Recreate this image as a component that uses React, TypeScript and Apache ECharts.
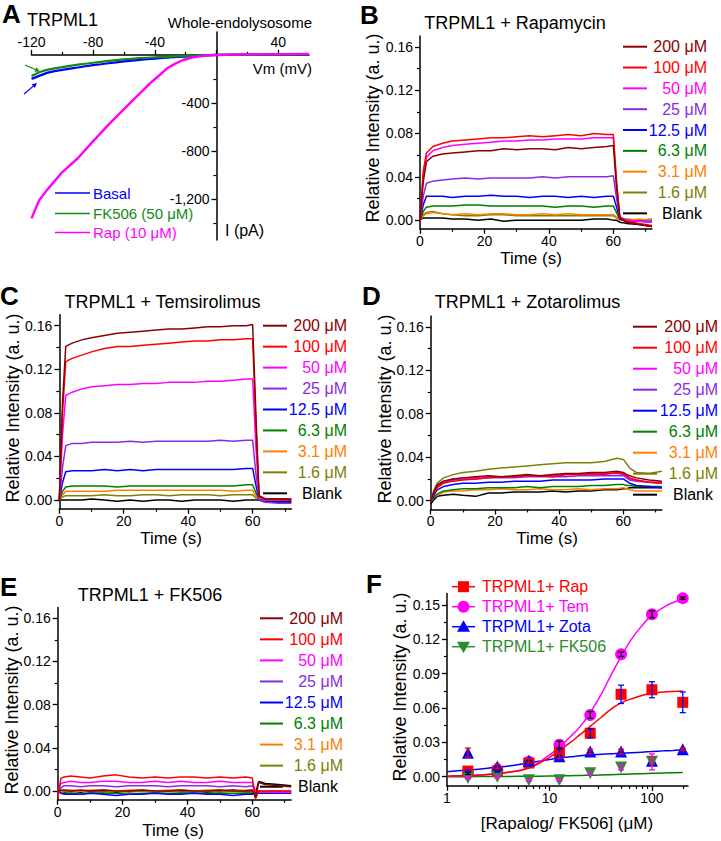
import React, { useEffect, useRef } from 'react';
import * as echarts from 'echarts';

const FONT = '"Liberation Sans", Arial, Helvetica, sans-serif';

// ---------- Panel A: I-V curves ----------
const voltageRap = [-120, -115, -110, -100, -90, -80, -70, -60, -54, -48, -43, -38, -32, -27, -22, -16, -11, -5, 0, 10, 20, 40, 60];
const currentRap = [-1360, -1210, -1125, -975, -860, -718, -580, -452, -375, -300, -236, -180, -112, -75, -45, -22, -12, -5, -2, 2, 4, 6, 8];
const voltageCtrl = [-120, -115, -110, -105, -100, -95, -90, -85, -80, -75, -70, -65, -60, -55, -50, -45, -40, -35, -30, -25, -20, -15, -10, -5, 0, 20, 40, 60];
const currentBasal = [-200, -175, -150, -135, -125, -115, -105, -95, -85, -78, -70, -62, -55, -48, -42, -36, -31, -26, -22, -18, -14, -10, -6, -3, 0, 1, 2, 3];
const currentFK506 = [-175, -145, -125, -112, -102, -92, -82, -74, -66, -58, -50, -44, -38, -33, -28, -24, -20, -17, -14, -11, -9, -6, -4, -2, 0, 1, 2, 3];

// ---------- Panels B-E: time courses ----------
const timeS = [0, 1, 2, 4, 7, 10, 14, 18, 22, 26, 30, 34, 38, 42, 46, 50, 54, 58, 60, 61, 62, 64, 68, 72];
const doseLabels = ['200 μM', '100 μM', '50 μM', '25 μM', '12.5 μM', '6.3 μM', '3.1 μM', '1.6 μM', 'Blank'];
const doseColors = ['#8b0000', '#ff0000', '#ff00ff', '#8a2be2', '#0000ff', '#008000', '#ff8000', '#808000', '#000000'];

const rapamycin200 = [0, 0.035, 0.054, 0.059, 0.061, 0.062, 0.063, 0.064, 0.064, 0.066, 0.065, 0.066, 0.066, 0.065, 0.067, 0.066, 0.067, 0.068, 0.069, 0.030, 0.002, -0.002, -0.004, -0.006];
const rapamycin100 = [0, 0.045, 0.062, 0.068, 0.071, 0.073, 0.074, 0.075, 0.076, 0.076, 0.077, 0.078, 0.077, 0.078, 0.079, 0.078, 0.080, 0.079, 0.079, 0.035, 0.003, -0.001, -0.003, -0.005];
const rapamycin50 = [0, 0.040, 0.058, 0.064, 0.067, 0.069, 0.070, 0.071, 0.072, 0.073, 0.073, 0.074, 0.074, 0.075, 0.075, 0.075, 0.076, 0.076, 0.076, 0.035, 0.003, 0.0, -0.001, -0.002];
const rapamycin25 = [0, 0.022, 0.034, 0.036, 0.037, 0.038, 0.039, 0.038, 0.039, 0.039, 0.039, 0.039, 0.040, 0.039, 0.040, 0.040, 0.040, 0.040, 0.041, 0.020, 0.002, 0.0, -0.001, -0.001];
const rapamycin12 = [0, 0.014, 0.022, 0.022, 0.022, 0.021, 0.022, 0.022, 0.023, 0.022, 0.022, 0.021, 0.022, 0.022, 0.021, 0.022, 0.021, 0.022, 0.022, 0.012, 0.001, -0.001, -0.001, -0.002];
const rapamycin6 = [0, 0.008, 0.012, 0.013, 0.013, 0.013, 0.014, 0.014, 0.013, 0.013, 0.013, 0.013, 0.013, 0.012, 0.013, 0.013, 0.012, 0.013, 0.013, 0.007, 0.001, 0.0, -0.001, -0.001];
const rapamycin3 = [0, 0.004, 0.006, 0.007, 0.006, 0.005, 0.006, 0.005, 0.006, 0.006, 0.005, 0.005, 0.006, 0.005, 0.006, 0.005, 0.005, 0.005, 0.005, 0.003, 0.0, 0.0, 0.001, 0.0];
const rapamycin1 = [0, 0.005, 0.007, 0.008, 0.006, 0.005, 0.004, 0.004, 0.005, 0.005, 0.004, 0.004, 0.004, 0.004, 0.004, 0.004, 0.004, 0.004, 0.004, 0.002, 0.001, 0.001, 0.0, 0.001];
const rapamycinBlank = [0, 0.002, 0.002, 0.002, 0.002, 0.001, 0.001, 0.0, 0.001, -0.001, 0.0, 0.0, 0.0, 0.0, 0.0, 0.0, 0.001, 0.001, 0.0, 0.0, -0.002, -0.003, -0.004, -0.006];

const temsirolimus200 = [0, 0.090, 0.141, 0.144, 0.147, 0.149, 0.151, 0.153, 0.154, 0.155, 0.156, 0.157, 0.157, 0.158, 0.159, 0.159, 0.160, 0.160, 0.161, 0.080, 0.004, 0.001, 0.001, 0.001];
const temsirolimus100 = [0, 0.080, 0.127, 0.130, 0.133, 0.136, 0.139, 0.141, 0.141, 0.142, 0.143, 0.144, 0.145, 0.146, 0.146, 0.147, 0.147, 0.148, 0.148, 0.070, 0.003, 0.001, 0.001, 0.0];
const temsirolimus50 = [0, 0.060, 0.096, 0.099, 0.102, 0.104, 0.105, 0.106, 0.106, 0.107, 0.107, 0.108, 0.108, 0.108, 0.109, 0.109, 0.110, 0.111, 0.111, 0.050, 0.002, 0.0, 0.0, 0.0];
const temsirolimus25 = [0, 0.030, 0.050, 0.052, 0.052, 0.053, 0.053, 0.053, 0.054, 0.053, 0.054, 0.054, 0.054, 0.054, 0.054, 0.055, 0.054, 0.055, 0.055, 0.025, 0.0, -0.002, -0.003, -0.003];
const temsirolimus12 = [0, 0.016, 0.026, 0.027, 0.027, 0.027, 0.028, 0.027, 0.028, 0.027, 0.028, 0.028, 0.028, 0.028, 0.028, 0.028, 0.028, 0.029, 0.029, 0.014, 0.0, -0.002, -0.002, -0.002];
const temsirolimus6 = [0, 0.008, 0.012, 0.013, 0.013, 0.013, 0.013, 0.012, 0.013, 0.013, 0.013, 0.013, 0.013, 0.013, 0.013, 0.013, 0.013, 0.014, 0.014, 0.007, 0.001, 0.0, 0.0, 0.0];
const temsirolimus3 = [0, 0.005, 0.008, 0.008, 0.008, 0.008, 0.008, 0.009, 0.009, 0.009, 0.009, 0.009, 0.009, 0.009, 0.009, 0.009, 0.008, 0.009, 0.009, 0.004, 0.001, 0.001, 0.001, 0.001];
const temsirolimus1 = [0, 0.003, 0.004, 0.004, 0.004, 0.004, 0.005, 0.004, 0.004, 0.005, 0.005, 0.004, 0.005, 0.005, 0.005, 0.004, 0.005, 0.005, 0.005, 0.002, 0.001, 0.001, 0.001, 0.001];
const temsirolimusBlank = [0, 0.0, 0.0, 0.0, 0.0, 0.001, 0.0, -0.001, 0.0, -0.001, 0.0, 0.0, -0.001, 0.0, 0.0, 0.0, -0.001, 0.0, 0.0, 0.0, 0.0, -0.001, -0.001, -0.001];

const zotarolimus200 = [0, 0.008, 0.014, 0.018, 0.020, 0.021, 0.022, 0.023, 0.022, 0.023, 0.024, 0.023, 0.024, 0.025, 0.025, 0.026, 0.026, 0.027, 0.026, 0.024, 0.023, 0.021, 0.019, 0.018];
const zotarolimus100 = [0, 0.007, 0.012, 0.016, 0.018, 0.019, 0.020, 0.021, 0.022, 0.022, 0.023, 0.023, 0.022, 0.024, 0.024, 0.025, 0.024, 0.026, 0.025, 0.023, 0.021, 0.019, 0.017, 0.016];
const zotarolimus50 = [0, 0.008, 0.014, 0.018, 0.020, 0.021, 0.021, 0.022, 0.022, 0.022, 0.023, 0.023, 0.023, 0.024, 0.024, 0.024, 0.025, 0.025, 0.024, 0.022, 0.020, 0.019, 0.017, 0.017];
const zotarolimus25 = [0, 0.007, 0.013, 0.017, 0.019, 0.020, 0.020, 0.021, 0.021, 0.021, 0.022, 0.022, 0.022, 0.022, 0.023, 0.023, 0.023, 0.023, 0.023, 0.021, 0.019, 0.018, 0.017, 0.016];
const zotarolimus12 = [0, 0.005, 0.010, 0.013, 0.015, 0.016, 0.016, 0.017, 0.017, 0.018, 0.018, 0.018, 0.019, 0.019, 0.019, 0.019, 0.020, 0.020, 0.020, 0.018, 0.016, 0.014, 0.013, 0.012];
const zotarolimus6 = [0, 0.003, 0.006, 0.009, 0.010, 0.011, 0.011, 0.012, 0.012, 0.012, 0.013, 0.012, 0.013, 0.013, 0.013, 0.014, 0.014, 0.015, 0.015, 0.014, 0.014, 0.013, 0.013, 0.013];
const zotarolimus3 = [0, 0.003, 0.005, 0.008, 0.009, 0.009, 0.010, 0.010, 0.011, 0.010, 0.010, 0.011, 0.010, 0.010, 0.011, 0.010, 0.011, 0.011, 0.012, 0.011, 0.010, 0.009, 0.009, 0.009];
const zotarolimus1 = [0, 0.010, 0.016, 0.021, 0.024, 0.026, 0.027, 0.029, 0.030, 0.031, 0.032, 0.033, 0.034, 0.035, 0.035, 0.035, 0.036, 0.039, 0.038, 0.034, 0.030, 0.026, 0.025, 0.027];
const zotarolimusBlank = [-0.003, 0.001, 0.004, 0.005, 0.006, 0.005, 0.004, 0.007, 0.007, 0.008, 0.008, 0.008, 0.009, 0.008, 0.009, 0.009, 0.010, 0.010, 0.011, 0.011, 0.012, 0.012, 0.012, 0.012];

const fk506_200 = [0, 0.001, 0.001, 0.0, 0.001, 0.0, 0.001, 0.0, 0.0, 0.001, 0.0, 0.0, 0.001, 0.0, 0.0, 0.001, 0.0, 0.0, 0.001, -0.006, 0.008, 0.006, 0.005, 0.004];
const fk506_100 = [-0.007, 0.012, 0.013, 0.014, 0.013, 0.012, 0.014, 0.015, 0.013, 0.012, 0.013, 0.012, 0.013, 0.013, 0.012, 0.013, 0.012, 0.013, 0.012, -0.007, 0.0, 0.0, 0.0, 0.0];
const fk506_50 = [0, 0.007, 0.008, 0.009, 0.008, 0.008, 0.009, 0.009, 0.008, 0.008, 0.009, 0.008, 0.009, 0.008, 0.008, 0.009, 0.008, 0.008, 0.008, 0.0, -0.001, -0.001, -0.001, -0.001];
const fk506_25 = [0, 0.003, 0.005, 0.005, 0.004, 0.005, 0.005, 0.004, 0.005, 0.005, 0.005, 0.004, 0.005, 0.005, 0.005, 0.004, 0.005, 0.004, 0.005, 0.0, -0.001, -0.001, -0.001, -0.001];
const fk506_12 = [0, -0.002, -0.003, -0.003, -0.003, -0.002, -0.003, -0.004, -0.003, -0.003, -0.002, -0.003, -0.003, -0.002, -0.003, -0.003, -0.004, -0.003, -0.003, -0.002, -0.002, -0.002, -0.002, -0.002];
const fk506_6 = [0, -0.002, -0.002, -0.002, -0.003, -0.002, -0.002, -0.002, -0.003, -0.002, -0.002, -0.002, -0.002, -0.002, -0.002, -0.002, -0.002, -0.002, -0.002, -0.001, -0.001, -0.001, -0.001, -0.001];
const fk506_3 = [0, 0.0, 0.001, 0.001, 0.0, 0.001, 0.001, 0.0, 0.001, 0.001, 0.0, 0.001, 0.001, 0.0, 0.001, 0.001, 0.0, 0.001, 0.001, 0.0, 0.0, 0.0, 0.0, 0.0];
const fk506_1 = [0, -0.001, 0.0, -0.001, 0.0, -0.001, -0.001, 0.0, -0.001, 0.0, -0.001, 0.0, -0.001, -0.001, 0.0, -0.001, 0.0, -0.001, -0.001, 0.0, 0.0, 0.0, 0.0, 0.0];
const fk506_Blank = [0, 0.0, -0.001, 0.0, -0.001, 0.0, 0.0, -0.001, 0.0, 0.0, -0.001, 0.0, 0.0, 0.0, -0.001, 0.0, 0.001, 0.0, 0.0, -0.002, 0.009, 0.007, 0.006, 0.005];

// ---------- Panel F: dose response ----------
const concentrations = [1.6, 3.1, 6.3, 12.5, 25, 50, 100, 200];
const rapMean = [0.005, 0.005, 0.012, 0.021, 0.038, 0.072, 0.076, 0.065];
const rapErr = [0.001, 0.001, 0.001, 0.003, 0.004, 0.008, 0.007, 0.009];
const temMean = [0.003, 0.006, 0.013, 0.028, 0.054, 0.107, 0.142, 0.156];
const temErr = [0.001, 0.001, 0.001, 0.003, 0.003, 0.002, 0.003, 0.001];
const zotaMean = [0.021, 0.009, 0.014, 0.018, 0.022, 0.022, 0.014, 0.024];
const zotaErr = [0.004, 0.002, 0.002, 0.002, 0.002, 0.002, 0.003, 0.001];
const fkConc = [1.6, 3.1, 6.3, 12.5, 25, 50, 100];
const fkMean = [-0.001, 0.0, -0.003, -0.003, 0.003, 0.008, 0.013];
const fkErr = [0.001, 0.001, 0.001, 0.001, 0.001, 0.002, 0.007];

const fitConc = [1, 1.6, 2.5, 4, 6.3, 10, 12.5, 16, 20, 25, 32, 40, 50, 63, 80, 100, 130, 160, 200];
const rapFit = [0.0005, 0.001, 0.002, 0.004, 0.0075, 0.017, 0.023, 0.030, 0.037, 0.044, 0.052, 0.059, 0.0645, 0.068, 0.071, 0.0728, 0.074, 0.0745, 0.0748];
const temFit = [0.0005, 0.001, 0.002, 0.004, 0.008, 0.019, 0.026, 0.035, 0.044, 0.056, 0.072, 0.089, 0.105, 0.120, 0.132, 0.141, 0.148, 0.152, 0.155];
const zotaFit = [0.0044, 0.0058, 0.0074, 0.0094, 0.0122, 0.015, 0.0164, 0.0174, 0.0183, 0.019, 0.0196, 0.0201, 0.0206, 0.021, 0.0215, 0.022, 0.0226, 0.023, 0.0235];
const fkFit = [0.0001, 0.0001, 0.0002, 0.0003, 0.0004, 0.0006, 0.0007, 0.0009, 0.0011, 0.0013, 0.0015, 0.0018, 0.0021, 0.0024, 0.0027, 0.003, 0.0033, 0.0035, 0.0037];

// ---------- helpers ----------
const AXC = '#000';

function axisPair(gridIndex: number, type: string, min: number, max: number, position: string,
  majors: number[], labels: number[], minors: number[], fmt: (v: number) => string, offset: number, margin: number) {
  const main: any = {
    gridIndex, type, min, max, position, offset,
    axisLine: { show: true, onZero: false, lineStyle: { color: AXC, width: 1.5 } },
    axisTick: { show: true, customValues: majors, length: 5, lineStyle: { color: AXC, width: 1.3 } },
    axisLabel: { show: true, customValues: labels, formatter: fmt, color: '#000', fontSize: 14, fontFamily: FONT, margin },
    splitLine: { show: false },
  };
  const minor: any = {
    gridIndex, type, min, max, position, offset,
    axisLine: { show: false, onZero: false },
    axisTick: { show: true, customValues: minors, length: 3, lineStyle: { color: AXC, width: 1.2 } },
    axisLabel: { show: false },
    splitLine: { show: false },
  };
  if (type === 'log') { main.logBase = 10; minor.logBase = 10; }
  return [main, minor];
}

function txt(text: string, x: number, y: number, size: number, fill = '#000', align = 'left', extra: any = {}) {
  return {
    type: 'text', x, y, silent: true,
    style: { text, fill, fontSize: size, fontFamily: FONT, align, verticalAlign: 'middle', ...(extra.style || {}) },
    ...(extra.el || {}),
  };
}

function buildOption() {
  const grids: any[] = [];
  const xAxes: any[] = [];
  const yAxes: any[] = [];
  const series: any[] = [];
  const graphic: any[] = [];

  // ----- Panel A -----
  const aGrid = { left: 31.5, top: 32, width: 277.5, height: 208 };
  grids.push(aGrid);
  {
    // axes cross at (0, 0): x axis sits at I = 0, y axis at Vm = 0
    const xZeroOffset = -(aGrid.height * 190 / 1730);
    const yZeroOffset = -(aGrid.width * 120 / 180);
    const [xm, xn] = axisPair(0, 'value', -120, 60, 'top', [-120, -80, -40, 0, 40], [-120, -80, -40, 40], [-100, -60, -20, 20], (v) => String(v), xZeroOffset, 6);
    const [ym, yn] = axisPair(0, 'value', -1540, 190, 'left', [-1200, -800, -400], [-1200, -800, -400], [-1400, -1000, -600, -200], (v) => Number(v).toLocaleString('en-US'), yZeroOffset, 7);
    xAxes.push(xm, xn); yAxes.push(ym, yn);
    const xi = 0, yi = 0;
    series.push({ type: 'line', xAxisIndex: xi, yAxisIndex: yi, showSymbol: false, symbol: 'none', data: voltageCtrl.map((v, i) => [v, currentBasal[i]]), lineStyle: { color: '#0000ff', width: 2.2 } });
    series.push({ type: 'line', xAxisIndex: xi, yAxisIndex: yi, showSymbol: false, symbol: 'none', data: voltageCtrl.map((v, i) => [v, currentFK506[i]]), lineStyle: { color: '#138a13', width: 2.2 } });
    series.push({ type: 'line', xAxisIndex: xi, yAxisIndex: yi, showSymbol: false, symbol: 'none', data: voltageRap.map((v, i) => [v, currentRap[i]]), lineStyle: { color: '#ff00ff', width: 2.4 } });
  }
  graphic.push(txt('A', 2, 14, 26, '#000', 'left', { style: { fontWeight: 'bold' } }));
  graphic.push(txt('TRPML1', 27, 20, 18));
  graphic.push(txt('Whole-endolysosome', 312, 22, 15, '#000', 'right'));
  graphic.push(txt('Vm (mV)', 312, 68, 15, '#000', 'right'));
  graphic.push(txt('I (pA)', 225, 230, 16));
  const aLegend = [['Basal', '#0000ff', 193], ['FK506 (50 μM)', '#138a13', 213.5], ['Rap (10 μM)', '#ff00ff', 232.5]];
  aLegend.forEach(([t, c, y]: any) => {
    graphic.push({ type: 'line', silent: true, shape: { x1: 55, y1: y, x2: 90, y2: y }, style: { stroke: c, lineWidth: 1.5 } });
    graphic.push(txt(t, 93, y, 15, c));
  });
  // arrows
  graphic.push({ type: 'line', silent: true, shape: { x1: 25, y1: 65, x2: 37, y2: 70.2 }, style: { stroke: '#138a13', lineWidth: 1.2 } });
  graphic.push({ type: 'polygon', silent: true, shape: { points: [[40, 71.5], [34.4, 71.8], [36.4, 67.2]] }, style: { fill: '#138a13' } });
  graphic.push({ type: 'line', silent: true, shape: { x1: 24, y1: 94, x2: 34.5, y2: 85.1 }, style: { stroke: '#0000ff', lineWidth: 1.2 } });
  graphic.push({ type: 'polygon', silent: true, shape: { points: [[37, 83], [34.8, 88.1], [31.6, 84.3]] }, style: { fill: '#0000ff' } });

  // ----- Panels B-E -----
  const panels = [
    { letter: 'B', lx: 360, ly: 15, title: 'TRPML1 + Rapamycin', tx: 515, ty: 23,
      grid: { left: 420, top: 36, width: 232, height: 192.8 }, yn: [373, 128], xn: [531, 258],
      lg: { x1: 623, x2: 647, r: 707, y0: 46.7, dy: 20.83 },
      data: [rapamycin200, rapamycin100, rapamycin50, rapamycin25, rapamycin12, rapamycin6, rapamycin3, rapamycin1, rapamycinBlank] },
    { letter: 'C', lx: 0, ly: 296, title: 'TRPML1 + Temsirolimus', tx: 162.5, ty: 302,
      grid: { left: 59.3, top: 314.8, width: 232, height: 194 }, yn: [13, 408], xn: [171, 538],
      lg: { x1: 263, x2: 287, r: 347, y0: 325.7, dy: 20.95 },
      data: [temsirolimus200, temsirolimus100, temsirolimus50, temsirolimus25, temsirolimus12, temsirolimus6, temsirolimus3, temsirolimus1, temsirolimusBlank] },
    { letter: 'D', lx: 362, ly: 296, title: 'TRPML1 + Zotarolimus', tx: 527.5, ty: 302,
      grid: { left: 430.7, top: 315.9, width: 231.2, height: 193.5 }, yn: [385, 409], xn: [547, 538],
      lg: { x1: 633, x2: 657, r: 718, y0: 326.7, dy: 21.0 },
      data: [zotarolimus200, zotarolimus100, zotarolimus50, zotarolimus25, zotarolimus12, zotarolimus6, zotarolimus3, zotarolimus1, zotarolimusBlank] },
    { letter: 'E', lx: 0, ly: 587, title: 'TRPML1 + FK506', tx: 150, ty: 595,
      grid: { left: 57.7, top: 607.5, width: 233.5, height: 192.2 }, yn: [12, 700], xn: [173, 830],
      lg: { x1: 260, x2: 283, r: 343, y0: 618.3, dy: 21.05 },
      data: [fk506_200, fk506_100, fk506_50, fk506_25, fk506_12, fk506_6, fk506_3, fk506_1, fk506_Blank] },
  ];

  panels.forEach((p) => {
    const g = grids.length;
    grids.push(p.grid);
    const xi = xAxes.length, yi = yAxes.length;
    const [xm, xn] = axisPair(g, 'value', 0, 72, 'bottom', [0, 20, 40, 60], [0, 20, 40, 60], [10, 30, 50, 70], (v) => String(v), 0, 5);
    const [ym, yn] = axisPair(g, 'value', -0.008, 0.17, 'left', [0, 0.04, 0.08, 0.12, 0.16], [0, 0.04, 0.08, 0.12, 0.16], [0.02, 0.06, 0.1, 0.14], (v) => Number(v).toFixed(2), 0, 7);
    xAxes.push(xm, xn); yAxes.push(ym, yn);
    for (let k = p.data.length - 1; k >= 0; k--) {
      series.push({
        type: 'line', xAxisIndex: xi, yAxisIndex: yi, showSymbol: false, symbol: 'none',
        data: timeS.map((t, i) => [t, p.data[k][i]]),
        lineStyle: { color: doseColors[k], width: 1.5 },
      });
    }
    graphic.push(txt(p.letter, p.lx, p.ly, 26, '#000', 'left', { style: { fontWeight: 'bold' } }));
    graphic.push(txt(p.title, p.tx, p.ty, 18, '#000', 'center'));
    graphic.push(txt('Relative Intensity (a. u.)', p.yn[0], p.yn[1], 18, '#000', 'center', { el: { rotation: Math.PI / 2 } }));
    graphic.push(txt('Time (s)', p.xn[0], p.xn[1], 17, '#000', 'center'));
    doseLabels.forEach((lab, k) => {
      const y = p.lg.y0 + k * p.lg.dy;
      graphic.push({ type: 'line', silent: true, shape: { x1: p.lg.x1, y1: y, x2: p.lg.x2, y2: y }, style: { stroke: doseColors[k], lineWidth: 2 } });
      graphic.push(txt(lab, lab === 'Blank' ? p.lg.r - 5 : p.lg.r, y, 16, doseColors[k], 'right'));
    });
  });

  // ----- Panel F -----
  {
    const g = grids.length;
    grids.push({ left: 447, top: 593.6, width: 241, height: 192.3 });
    const xi = xAxes.length, yi = yAxes.length;
    const [xm, xn] = axisPair(g, 'log', 1, 225, 'bottom', [1, 10, 100], [1, 10, 100], [2, 3, 4, 5, 6, 7, 8, 9, 20, 30, 40, 50, 60, 70, 80, 90, 200], (v) => String(v), 0, 5);
    const [ym, yn] = axisPair(g, 'value', -0.008, 0.16, 'left', [0, 0.03, 0.06, 0.09, 0.12, 0.15], [0, 0.03, 0.06, 0.09, 0.12, 0.15], [0.015, 0.045, 0.075, 0.105, 0.135], (v) => Number(v).toFixed(2), 0, 7);
    xAxes.push(xm, xn); yAxes.push(ym, yn);

    const fits = [[fkFit, '#008000'], [zotaFit, '#0000ff'], [temFit, '#ff00ff'], [rapFit, '#ff0000']];
    fits.forEach(([arr, c]: any) => {
      series.push({ type: 'line', xAxisIndex: xi, yAxisIndex: yi, smooth: true, showSymbol: false, symbol: 'none', data: fitConc.map((x, i) => [x, arr[i]]), lineStyle: { color: c, width: 1.5 }, z: 2 });
    });
    const pts = [
      { x: concentrations, m: temMean, e: temErr, sym: 'circle', size: 12, rot: 0, c: '#ff00ff', ec: '#000' },
      { x: concentrations, m: rapMean, e: rapErr, sym: 'rect', size: 11, rot: 0, c: '#ff0000', ec: '#0000ff' },
      { x: concentrations, m: zotaMean, e: zotaErr, sym: 'triangle', size: 12, rot: 0, c: '#0000ff', ec: '#ff0000' },
      { x: fkConc, m: fkMean, e: fkErr, sym: 'triangle', size: 12, rot: 180, c: '#2e8b2e', ec: '#ff00ff' },
    ];
    pts.forEach((s) => {
      series.push({ type: 'scatter', xAxisIndex: xi, yAxisIndex: yi, symbol: s.sym, symbolSize: s.size, symbolRotate: s.rot, data: s.x.map((x, i) => [x, s.m[i]]), itemStyle: { color: s.c, opacity: 1 }, z: 3 });
      series.push({
        type: 'custom', xAxisIndex: xi, yAxisIndex: yi, z: 4,
        data: s.x.map((x, i) => [x, s.m[i], s.e[i]]),
        renderItem: (params: any, api: any) => {
          const x = api.value(0), y = api.value(1), e = api.value(2);
          const t = api.coord([x, y + e]);
          const b = api.coord([x, y - e]);
          const w = 3;
          const st = { stroke: s.ec, lineWidth: 1.3 };
          return {
            type: 'group', children: [
              { type: 'line', shape: { x1: t[0], y1: t[1], x2: b[0], y2: b[1] }, style: st },
              { type: 'line', shape: { x1: t[0] - w, y1: t[1], x2: t[0] + w, y2: t[1] }, style: st },
              { type: 'line', shape: { x1: b[0] - w, y1: b[1], x2: b[0] + w, y2: b[1] }, style: st },
            ],
          };
        },
      });
    });
  }
  graphic.push(txt('F', 366, 584, 26, '#000', 'left', { style: { fontWeight: 'bold' } }));
  graphic.push(txt('Relative Intensity (a. u.)', 400, 687, 18, '#000', 'center', { el: { rotation: Math.PI / 2 } }));
  graphic.push(txt('[Rapalog/ FK506] (μM)', 567, 823, 17, '#000', 'center'));
  const fLegend = [
    ['TRPML1+ Rap', '#ff0000', 586.7, 'rect'],
    ['TRPML1+ Tem', '#ff00ff', 606.7, 'circle'],
    ['TRPML1+ Zota', '#0000ff', 626.7, 'up'],
    ['TRPML1+ FK506', '#2e8b2e', 646.7, 'down'],
  ];
  fLegend.forEach(([t, c, y, s]: any) => {
    graphic.push({ type: 'line', silent: true, shape: { x1: 452, y1: y, x2: 475, y2: y }, style: { stroke: c, lineWidth: 1.5 } });
    const cx = 463.5;
    if (s === 'rect') graphic.push({ type: 'rect', silent: true, shape: { x: cx - 5.5, y: y - 5.5, width: 11, height: 11 }, style: { fill: c } });
    if (s === 'circle') graphic.push({ type: 'circle', silent: true, shape: { cx, cy: y, r: 6 }, style: { fill: c } });
    if (s === 'up') graphic.push({ type: 'polygon', silent: true, shape: { points: [[cx, y - 6.5], [cx + 6.5, y + 5], [cx - 6.5, y + 5]] }, style: { fill: c } });
    if (s === 'down') graphic.push({ type: 'polygon', silent: true, shape: { points: [[cx, y + 6.5], [cx + 6.5, y - 5], [cx - 6.5, y - 5]] }, style: { fill: c } });
    graphic.push(txt(t, 482, y, 16, c));
  });

  return {
    animation: false,
    backgroundColor: '#fff',
    textStyle: { fontFamily: FONT },
    grid: grids,
    xAxis: xAxes,
    yAxis: yAxes,
    series,
    graphic: { elements: graphic },
  };
}

export default function App() {
  const ref = useRef<HTMLDivElement>(null);
  useEffect(() => {
    if (!ref.current) return;
    const chart = echarts.init(ref.current, null, { renderer: 'svg' });
    chart.setOption(buildOption() as any);
    return () => chart.dispose();
  }, []);
  return <div ref={ref} style={{ position: 'absolute', left: 0, top: 0, width: 721, height: 841, background: '#fff' }} />;
}
